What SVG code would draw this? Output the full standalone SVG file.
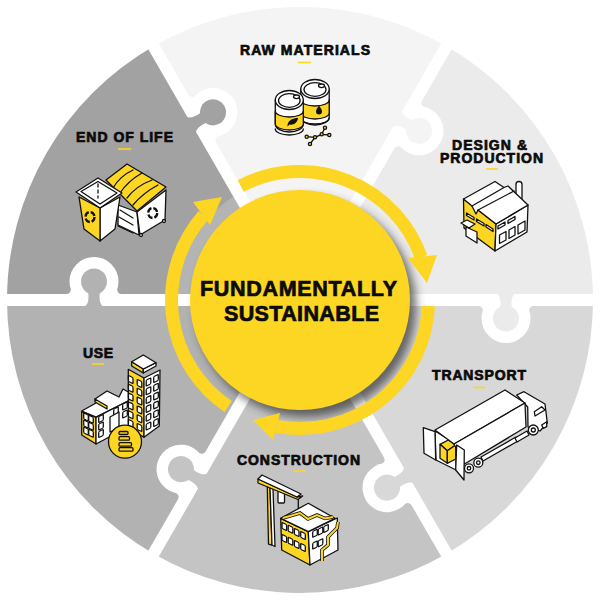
<svg xmlns="http://www.w3.org/2000/svg" xmlns:xlink="http://www.w3.org/1999/xlink" width="600" height="600" viewBox="0 0 600 600">
<style>
.lbl{font-family:"Liberation Sans",Arial,sans-serif;font-weight:700;font-size:14px;fill:#0b0b0b;stroke:#0b0b0b;stroke-width:.7px}
.ttl{font-family:"Liberation Sans",Arial,sans-serif;font-weight:700;font-size:21.5px;fill:#0b0b0b;stroke:#0b0b0b;stroke-width:.7px}
.ul{stroke:#fdd523;stroke-width:1.6;fill:none}
.k{stroke:#111;stroke-width:1.3;stroke-linejoin:round;stroke-linecap:round}
.w{fill:#fff}.y{fill:#fdd523}.n{fill:none}.b{fill:#111;stroke:none}
.arc{fill:none;stroke:#fdd523;stroke-width:13}
.head{fill:#fdd523}
.spoke{stroke:#fff;stroke-width:12}
</style>
<defs>
<filter id="soft" x="-20%" y="-20%" width="140%" height="140%"><feGaussianBlur stdDeviation="5"/></filter>
<g id="knob">
<circle cx="206" cy="18.5" r="24.5" fill="#fff"/>
<path d="M179,5L186,5L183,12Q183,6.500 179,6Z M233,5L226,5L229,12Q229,6.500 233,6Z" fill="#fff"/>
<circle cx="206" cy="18.500" r="13"/>
<path d="M196,-7C200,-5 200.500,0 200.500,4L200,10L212,10L211.500,4C211.500,0 212,-5 216,-7Z"/>
</g>
<rect id="wl" x="-2.300" y="-3" width="4.600" height="6" rx="1" transform="skewY(25)" class="k w"/>
<rect id="wr" x="-2.300" y="-3" width="4.600" height="6" rx="1" transform="skewY(-25)" class="k w"/>
<g id="trow">
<use href="#wl" x="130.700" y="379.500"/><use href="#wl" x="139.500" y="383.500"/>
<use href="#wr" x="148.500" y="382"/><use href="#wr" x="156" y="378.500"/>
</g>
</defs>

<g id="puzzle">
<path d="M300,300L153.500,46.300A293,293 0 0 1 446.500,46.300Z" fill="#f4f4f4"/>
<path d="M300,300L446.500,46.300A293,293 0 0 1 593,300Z" fill="#ebebec"/>
<path d="M300,300L593,300A293,293 0 0 1 446.500,553.700Z" fill="#d8d8d8"/>
<path d="M300,300L446.500,553.700A293,293 0 0 1 153.500,553.700Z" fill="#c4c4c4"/>
<path d="M300,300L153.500,553.700A293,293 0 0 1 7,300Z" fill="#b2b2b2"/>
<path d="M300,300L7,300A293,293 0 0 1 153.500,46.300Z" fill="#a3a2a2"/>
<path d="M300,300L177,300A123,123 0 0 1 238.500,193.500Z" fill="#b4b4b4"/>
<g class="spoke">
<line x1="300" y1="300" x2="600" y2="300"/>
<line x1="300" y1="300" x2="450" y2="559.800"/>
<line x1="300" y1="300" x2="150" y2="559.800"/>
<line x1="300" y1="300" x2="0" y2="300"/>
<line x1="300" y1="300" x2="150" y2="40.200"/>
<line x1="300" y1="300" x2="450" y2="40.200"/>
</g>
<use href="#knob" fill="#ebebec" transform="translate(300,300)"/>
<use href="#knob" fill="#d8d8d8" transform="translate(300,300) rotate(60)"/>
<use href="#knob" fill="#c4c4c4" transform="translate(300,300) rotate(120)"/>
<use href="#knob" fill="#b2b2b2" transform="translate(300,300) rotate(180)"/>
<use href="#knob" fill="#a3a2a2" transform="translate(300,300) rotate(240)"/>
<use href="#knob" fill="#f4f4f4" transform="translate(300,300) rotate(300)"/>
</g>

<circle cx="306" cy="307" r="110" fill="#333" opacity=".7" filter="url(#soft)"/>

<g id="connectors">
<path class="arc" d="M240.700,186A128.500,128.500 0 0 1 421.100,257.100"/>
<polygon class="head" points="437,255 408,258 427,283"/>
<path class="arc" d="M428.400,306A128.500,128.500 0 0 1 276.600,426.400"/>
<polygon class="head" points="280,413 273,440 253,420"/>
<path class="arc" d="M228.100,406.500A128.500,128.500 0 0 1 203.500,215.200"/>
<polygon class="head" points="193,202 210,225 222,197"/>
</g>

<g id="node-center">
<circle cx="300" cy="300" r="110" fill="#fdd523"/>
<text class="ttl" x="200" y="296" textLength="197">FUNDAMENTALLY</text>
<text class="ttl" x="224" y="321" textLength="155">SUSTAINABLE</text>
</g>

<g id="node-raw-materials">
<text class="lbl" x="240" y="55" textLength="130">RAW MATERIALS</text>
<line class="ul" x1="298" y1="62.500" x2="311" y2="62.500"/>
<path class="k w" d="M300.800,89V117A14.200,8 0 0 0 329.200,117V89Z"/>
<path class="k y" d="M300.800,100V113A14.200,6 0 0 0 329.200,113V100A14.200,6 0 0 1 300.800,100Z"/>
<path class="k n" d="M300.800,118A14.200,6 0 0 0 329.200,118"/>
<ellipse class="k w" cx="315" cy="89" rx="14.200" ry="9.500"/>
<ellipse class="k n" cx="315" cy="89.500" rx="11" ry="6.800"/>
<ellipse class="k w" cx="321.500" cy="85.800" rx="3" ry="1.800"/>
<path class="b" d="M319,105.500C321,108.500 322,110 322,111.500A3,3 0 0 1 316,111.500C316,110 317,108.500 319,105.500Z"/>
<path class="k w" d="M275.300,100V124A14,8 0 0 0 303.300,124V100Z"/>
<path class="k y" d="M275.300,111V124A14,6 0 0 0 303.300,124V111A14,6 0 0 1 275.300,111Z"/>
<path class="k n" d="M275.300,129A14,6 0 0 0 303.300,129"/>
<ellipse class="k w" cx="289.300" cy="100" rx="14" ry="9.500"/>
<ellipse class="k n" cx="289.300" cy="100.500" rx="10.800" ry="6.800"/>
<ellipse class="k w" cx="296.500" cy="96.800" rx="3" ry="1.800"/>
<path class="b" d="M287.500,125C288,120.500 293,118 298,118C297.500,123 293,125.500 289.500,124.500L287.500,126.500Z"/>
<path class="k n" d="M306.700,136.700L315,137.300L321.700,134.300L329.300,135M315,137.300L310,144M321.700,134.300L325,127.700"/>
<g class="k y"><circle cx="306.700" cy="136.700" r="1.600"/><circle cx="315" cy="137.300" r="1.600"/><circle cx="310" cy="144" r="1.600"/><circle cx="321.700" cy="134.300" r="1.600"/><circle cx="329.300" cy="135" r="1.600"/><circle cx="325" cy="127.700" r="1.600"/></g>
</g>

<g id="node-design-production">
<text class="lbl" x="452" y="149.500" textLength="75">DESIGN &amp;</text>
<text class="lbl" x="440" y="162.500" textLength="103">PRODUCTION</text>
<line class="ul" x1="486" y1="169" x2="498" y2="169"/>
<rect class="k w" x="516" y="181.500" width="6" height="23" rx="3"/>
<polygon class="k y" points="463.500,199 478,210 496,224 495,251 464,228"/>
<polygon class="k w" points="496,224 528,205 527,232 495,251"/>
<polygon class="k w" points="463.500,199 495,181.500 504,187.500 508,186 528,205 496,224 478,210 476,214 472,206"/>
<path class="k n" d="M472,206L504,187.500M478,210L514,191"/>
<g class="k w">
<polygon points="466.500,213 474,217.500 474,220 466.500,215.500"/>
<polygon points="476.500,219 484,223.500 484,226 476.500,221.500"/>
<polygon points="486,224.500 493,229 493,231.500 486,227"/>
<polygon points="498,226 505,222 505,225 498,229"/>
<polygon points="508,220.500 515,216.500 515,219.500 508,223.500"/>
<polygon points="499.500,235 506,231.500 506,240 499.500,243.500"/>
<polygon points="509,230 515,226.500 515,235 509,238.500"/>
<polygon points="518,225 525,221 525,230 518,234"/>
<polygon points="466,227 477,232 477,243 466,236"/>
<polygon points="461,223 467,220 475,224 469,228"/>
</g>
</g>

<g id="node-transport">
<text class="lbl" x="432" y="380" textLength="94">TRANSPORT</text>
<line class="ul" x1="473" y1="387.500" x2="485" y2="387.500"/>
<polygon class="k w" points="516.700,395 524,391.700 545,404 547.300,423 540,431 528,427 527.700,407"/>
<polygon class="k w" points="534.300,411.700 541.700,406.700 545,410 535,416"/>
<polygon class="k w" points="541.700,425 546.700,421.700 546.700,426.700 543.300,428.300"/>
<polygon class="k w" points="481,457 516,437 518,441 483,461"/>
<polygon class="k w" points="515,438 527,431 529,435 517,442"/>
<polygon class="k w" points="435,431 456,444 456,470 436,460"/>
<polygon class="k w" points="423.300,427.700 435,431.700 435.700,460 424,453.300"/>
<polygon class="k y" points="440,444.300 448.300,440 455.700,445 447.300,450.700"/>
<polygon class="k y" points="440,444.300 447.300,450.700 447.300,463.300 440,458.300"/>
<polygon class="k y" points="447.300,450.700 455.700,445 455.700,459 447.300,463.300"/>
<polygon class="k w" points="435,430 505,390 525,403 454,444"/>
<polygon class="k w" points="454,444 525,403 526,427 464.500,464"/>
<polygon class="k w" points="456.700,445 464.300,450 464,480 455.700,470"/>
<g class="k w">
<circle cx="469" cy="468.300" r="4.500"/><circle cx="469" cy="468.300" r="1.800"/>
<circle cx="478.300" cy="462.700" r="4.500"/><circle cx="478.300" cy="462.700" r="1.800"/>
<circle cx="533.300" cy="430" r="5"/><circle cx="533.300" cy="430" r="2"/>
</g>
</g>

<g id="node-construction">
<text class="lbl" x="237" y="465" textLength="123">CONSTRUCTION</text>
<line class="ul" x1="293" y1="471" x2="306" y2="471"/>
<polygon class="k y" points="267.300,487 270,488 272,545 268.500,544"/>
<polygon class="k w" points="270,488 273,489 275,546.500 272,545"/>
<rect class="k w" x="278" y="491" width="6.500" height="12" rx="1"/>
<path class="k n" d="M298.300,498V511"/>
<polygon class="k y" points="258,479 297,497 302.700,496 298,499.500 258,483"/>
<polygon class="k w" points="258,479 262,475 301,494 297,497"/>
<polygon class="k y" points="280.700,518.300 308.300,531.700 310,565 281.700,550"/>
<polygon class="k w" points="308.300,531.700 337.300,518 338,550 310,565"/>
<polygon class="k w" points="280.700,518.300 308.300,503.300 335,518.300 308.300,531.700"/>
<path d="M283,518L300,513L308,519L317,515L325,518.500L333,517" fill="none" stroke="#111" stroke-width="3.600"/>
<path d="M283,518L300,513L308,519L317,515L325,518.500L333,517" fill="none" stroke="#fdd523" stroke-width="2"/>
<path d="M338,522L337,528L328,537V545L322,550V561" fill="none" stroke="#111" stroke-width="3.600"/>
<path d="M338,522L337,528L328,537V545L322,550V561" fill="none" stroke="#fdd523" stroke-width="2"/>
<use href="#wl" x="284.300" y="526.500"/><use href="#wl" x="290.500" y="529.300"/><use href="#wl" x="296.700" y="532.500"/><use href="#wl" x="303" y="535.500"/>
<use href="#wl" x="284.300" y="538.500"/><use href="#wl" x="290.500" y="541.300"/><use href="#wl" x="296.700" y="544.500"/><use href="#wl" x="303" y="547.500"/>
<use href="#wr" x="315" y="533.300"/><use href="#wr" x="320.500" y="531"/><use href="#wr" x="326" y="528.500"/>
<use href="#wr" x="315" y="545"/><use href="#wr" x="320.500" y="542.700"/>
</g>

<g id="node-use">
<text class="lbl" x="83" y="357.700" textLength="30">USE</text>
<line class="ul" x1="92" y1="364" x2="104" y2="364"/>
<polygon class="k w" points="81.700,411 96,403 95,399 107,391 119,397 123,389 130,393 130,400 96,417"/>
<polygon class="k y" points="95,399 107,406 107,409 95,402"/>
<polygon class="k y" points="81.700,411.700 96,417.300 96,444 81.700,435"/>
<polygon class="k w" points="96,417.300 130,400 130,426 96,444"/>
<use href="#wl" x="86" y="417"/><use href="#wl" x="91" y="419.300"/><use href="#wl" x="86" y="424"/><use href="#wl" x="91" y="426.300"/><use href="#wl" x="86" y="431"/><use href="#wl" x="91" y="433.300"/>
<use href="#wr" x="101" y="418.500"/><use href="#wr" x="101" y="426"/><use href="#wr" x="101" y="433.500"/>
<use href="#wr" x="116" y="411"/><use href="#wr" x="125" y="406"/><use href="#wr" x="125" y="414"/>
<polygon class="k w" points="110,417 119,412 119,428 110,432"/>
<polygon class="k y" points="128.300,369.300 144,378 144,437.300 128.300,428"/>
<polygon class="k w" points="144,378 160,370 159.300,426 144,437.300"/>
<polygon class="k y" points="131.700,361.700 143.300,369 143.300,373 131.700,366"/>
<polygon class="k w" points="143.300,369 156,362.700 156,366 143.300,373"/>
<polygon class="k w" points="131.700,361.700 143.300,355 156,362.700 143.300,369"/>
<use href="#trow"/><use href="#trow" y="8.800"/><use href="#trow" y="17.600"/><use href="#trow" y="26.400"/><use href="#trow" y="35.200"/><use href="#trow" y="44"/>
<circle class="k y" cx="125" cy="441.700" r="16.500"/>
<g class="k y">
<rect x="119" y="431.500" width="9" height="3" rx="1"/>
<rect x="119" y="436.700" width="10.500" height="3.500" rx="1"/>
<rect x="119" y="442.700" width="12.500" height="3.500" rx="1"/>
<rect x="119" y="447.700" width="14" height="3.500" rx="1"/>
</g>
</g>

<g id="node-end-of-life">
<text class="lbl" x="76" y="141.700" textLength="97">END OF LIFE</text>
<line class="ul" x1="118" y1="149" x2="131" y2="149"/>
<polygon class="k w" points="118,205 137,212 139,235 118,225"/>
<polygon class="k w" points="137,212 166,190 165,220 140,235"/>
<path class="k n" d="M120,210L133,218M119,217L133,225M118,226L133,233"/>
<polygon class="k y" points="106,180 127,164 166,187 137,211"/>
<path class="k n" d="M113,188Q120,176 133,170M120,193Q128,181 142,173M127,198Q136,186 152,180M133,205Q143,193 158,185"/>
<ellipse cx="152.700" cy="213" rx="4.500" ry="5" fill="none" stroke="#111" stroke-width="2.300" stroke-dasharray="5.500 2"/>
<circle class="k w" cx="141" cy="235" r="1.500"/><circle class="k w" cx="164" cy="221" r="1.500"/>
<polygon class="k w" points="100,208 120,197 115,229 100,241"/>
<polygon class="k y" points="79,197 100,208 100,241 84,229"/>
<polygon class="k w" points="76,192 98,178 122,193 100,208"/>
<polygon class="k w" points="81,191.500 98,181.500 117,193 100,204"/>
<path class="k n" d="M98,184V198" stroke-dasharray="3 3"/>
<ellipse cx="90" cy="217" rx="4.500" ry="5" fill="none" stroke="#111" stroke-width="2.300" stroke-dasharray="5.500 2"/>
</g>
</svg>
